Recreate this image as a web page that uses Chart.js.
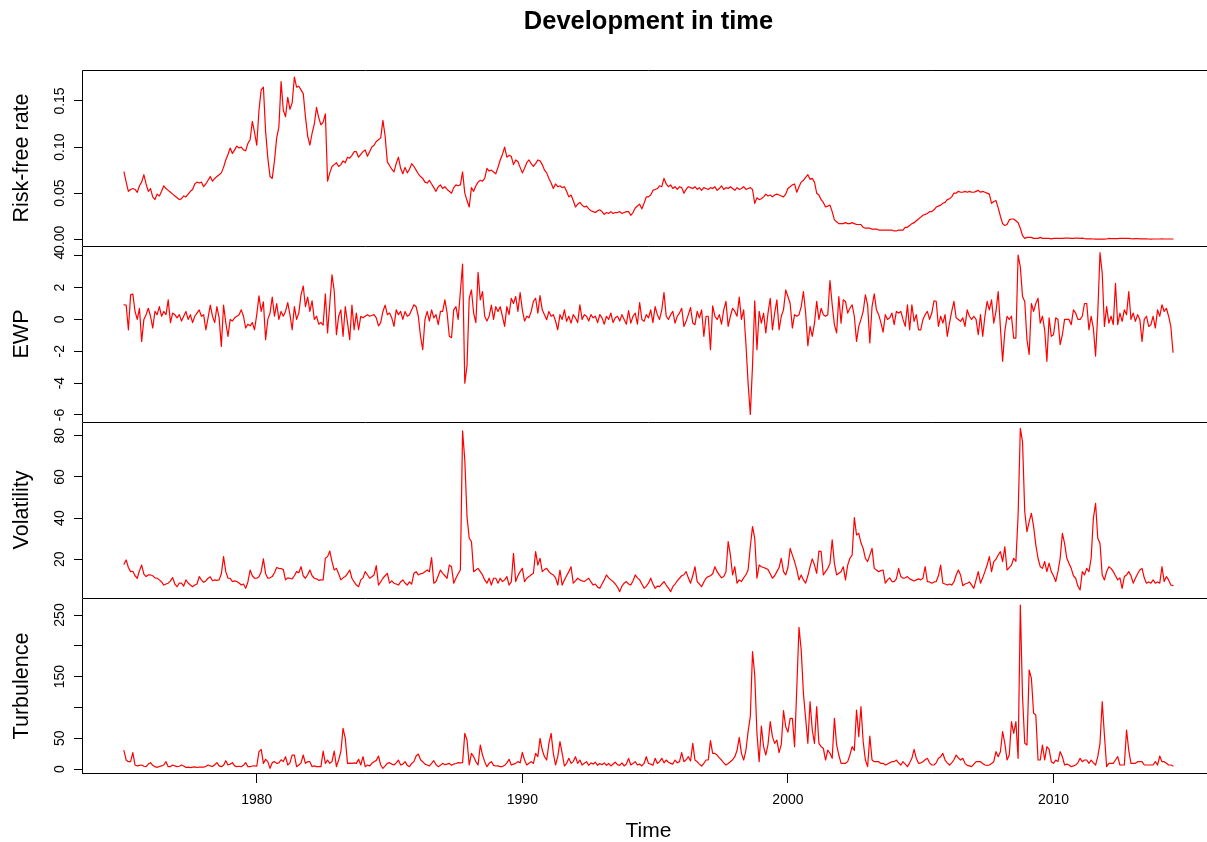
<!DOCTYPE html>
<html>
<head>
<meta charset="utf-8">
<title>Development in time</title>
<script src="https://cdn.jsdelivr.net/npm/chart.js@4.4.1/dist/chart.umd.min.js"></script>
<style>
  html, body { margin: 0; padding: 0; background: #fff; overflow: hidden; }
  #wrap { position: relative; width: 1215px; height: 842px; }
  #wrap canvas { position: absolute; left: 0; top: 0; }
</style>
</head>
<body>
<div id="wrap">
  <canvas id="rf" width="1215" height="842"></canvas>
  <canvas id="ewp" width="1215" height="842"></canvas>
  <canvas id="vol" width="1215" height="842"></canvas>
  <canvas id="turb" width="1215" height="842"></canvas>
</div>
<script>
// monthly series, Jan 1975 to Jul 2014 (one row per year)
const startYear = 1975;

const riskFree = [
  0.073, 0.062, 0.052, 0.054, 0.055, 0.054, 0.051, 0.058, 0.062, 0.070, 0.060, 0.052,
  0.055, 0.046, 0.043, 0.049, 0.047, 0.052, 0.058, 0.055, 0.053, 0.051, 0.049, 0.047,
  0.045, 0.043, 0.044, 0.047, 0.046, 0.049, 0.052, 0.054, 0.060, 0.062, 0.061, 0.062,
  0.057, 0.060, 0.064, 0.068, 0.063, 0.066, 0.068, 0.070, 0.072, 0.078, 0.086, 0.092,
  0.099, 0.093, 0.097, 0.101, 0.099, 0.100, 0.097, 0.096, 0.104, 0.108, 0.128, 0.116,
  0.102, 0.140, 0.162, 0.165, 0.117, 0.088, 0.068, 0.066, 0.085, 0.110, 0.122, 0.171,
  0.140, 0.133, 0.154, 0.141, 0.148, 0.176, 0.165, 0.166, 0.162, 0.158, 0.133, 0.112,
  0.102, 0.115, 0.125, 0.143, 0.132, 0.124, 0.127, 0.136, 0.063, 0.072, 0.079, 0.081,
  0.083, 0.079, 0.081, 0.085, 0.083, 0.089, 0.088, 0.091, 0.095, 0.095, 0.089, 0.092,
  0.095, 0.097, 0.090, 0.095, 0.100, 0.102, 0.106, 0.108, 0.110, 0.129, 0.112, 0.084,
  0.080, 0.076, 0.073, 0.082, 0.089, 0.077, 0.071, 0.078, 0.072, 0.076, 0.082, 0.079,
  0.075, 0.071, 0.068, 0.066, 0.062, 0.061, 0.064, 0.060, 0.056, 0.052, 0.057, 0.059,
  0.055, 0.057, 0.054, 0.052, 0.050, 0.056, 0.059, 0.058, 0.059, 0.073, 0.050, 0.042,
  0.035, 0.056, 0.052, 0.058, 0.062, 0.064, 0.063, 0.066, 0.077, 0.074, 0.075, 0.073,
  0.071, 0.078, 0.086, 0.092, 0.100, 0.089, 0.091, 0.090, 0.081, 0.086, 0.084, 0.078,
  0.072, 0.077, 0.083, 0.086, 0.082, 0.079, 0.082, 0.086, 0.085, 0.081, 0.075, 0.072,
  0.066, 0.061, 0.055, 0.060, 0.057, 0.058, 0.056, 0.057, 0.052, 0.046, 0.048, 0.042,
  0.035, 0.038, 0.040, 0.037, 0.035, 0.036, 0.033, 0.031, 0.030, 0.029, 0.031, 0.032,
  0.030, 0.027, 0.029, 0.028, 0.030, 0.028, 0.029, 0.029, 0.030, 0.028, 0.029, 0.030,
  0.030, 0.026, 0.029, 0.034, 0.036, 0.038, 0.033, 0.039, 0.046, 0.046, 0.048, 0.053,
  0.054, 0.055, 0.058, 0.057, 0.066, 0.060, 0.057, 0.059, 0.055, 0.057, 0.054, 0.057,
  0.056, 0.050, 0.054, 0.057, 0.056, 0.055, 0.057, 0.054, 0.056, 0.053, 0.056, 0.055,
  0.054, 0.056, 0.055, 0.057, 0.053, 0.055, 0.058, 0.054, 0.056, 0.055, 0.057, 0.055,
  0.053, 0.056, 0.054, 0.055, 0.057, 0.054, 0.055, 0.056, 0.054, 0.039, 0.045, 0.043,
  0.044, 0.046, 0.049, 0.047, 0.048, 0.046, 0.048, 0.049, 0.048, 0.047, 0.046, 0.049,
  0.055, 0.057, 0.059, 0.060, 0.051, 0.057, 0.062, 0.064, 0.067, 0.070, 0.065, 0.066,
  0.062, 0.050, 0.048, 0.043, 0.040, 0.035, 0.036, 0.037, 0.030, 0.021, 0.019, 0.017,
  0.017, 0.017, 0.018, 0.017, 0.017, 0.018, 0.017, 0.016, 0.016, 0.016, 0.013, 0.012,
  0.012, 0.012, 0.011, 0.011, 0.011, 0.010, 0.010, 0.010, 0.010, 0.010, 0.010, 0.010,
  0.009, 0.009, 0.010, 0.010, 0.010, 0.013, 0.013, 0.015, 0.017, 0.018, 0.020, 0.022,
  0.024, 0.026, 0.027, 0.028, 0.030, 0.030, 0.032, 0.035, 0.036, 0.037, 0.039, 0.040,
  0.043, 0.044, 0.046, 0.050, 0.050, 0.052, 0.051, 0.051, 0.052, 0.051, 0.052, 0.051,
  0.051, 0.052, 0.053, 0.051, 0.052, 0.051, 0.050, 0.049, 0.039, 0.041, 0.042, 0.034,
  0.025, 0.017, 0.015, 0.016, 0.021, 0.022, 0.022, 0.020, 0.018, 0.012, 0.004, 0.001,
  0.002, 0.002, 0.002, 0.001, 0.001, 0.001, 0.002, 0.001, 0.001, 0.001, 0.001, 0.0005,
  0.001, 0.001, 0.001, 0.001, 0.001, 0.0012, 0.0012, 0.0012, 0.001, 0.001, 0.0012, 0.0012,
  0.001, 0.0012, 0.0008, 0.0005, 0.0004, 0.0004, 0.0003, 0.0002, 0.0002, 0.0002, 0.0002, 0.0002,
  0.0003, 0.001, 0.0008, 0.0008, 0.0008, 0.0008, 0.001, 0.001, 0.001, 0.001, 0.001, 0.0007,
  0.0005, 0.0008, 0.0008, 0.0005, 0.0004, 0.0004, 0.0004, 0.0003, 0.0002, 0.0003, 0.0003, 0.0003,
  0.0003, 0.0004, 0.0003, 0.0003, 0.0003, 0.0003, 0.0003
];

const ewp = [
  0.92, 0.90, -0.65, 1.54, 1.60, 0.50, 0.00, 0.70, -1.38, 0.00, 0.30, 0.70,
  0.20, -0.54, 0.50, 0.30, 0.80, 0.20, 0.50, 0.30, 1.23, -0.20, 0.40, 0.30,
  0.10, 0.30, -0.10, 0.20, 0.50, 0.00, 0.30, -0.20, 0.20, 0.40, 0.60, 0.20,
  0.30, -0.65, 0.10, 0.90, 0.20, -0.20, 0.80, 0.10, -1.69, 0.90, -0.20, -1.06,
  0.00, -0.10, 0.10, 0.20, 0.30, 0.60, 0.20, -0.54, -0.30, -0.40, -0.20, -0.65,
  0.30, 1.48, 0.50, 1.10, -1.27, 0.00, 0.40, 1.40, 0.20, 1.00, 0.00, 0.50,
  0.20, 0.50, 1.06, 0.30, -0.65, 0.80, 0.00, 0.40, 1.54, 2.10, 0.80, 1.40,
  0.50, 1.17, 0.00, 0.20, -0.30, -0.20, -0.35, 1.60, -0.85, 1.00, 2.80, 1.80,
  -0.96, 0.20, 0.60, -1.06, 0.80, -0.20, -1.27, 0.90, -0.65, 0.40, -0.65, 0.20,
  0.10, 0.20, 0.30, 0.20, 0.25, 0.30, 0.10, -0.40, -0.20, 0.50, 0.90, 0.30,
  0.40, 0.10, -0.44, 0.60, 0.30, 0.50, 0.00, 0.50, 0.20, 0.30, 0.60, 0.92,
  0.80, 0.20, -1.06, -1.90, 0.00, 0.50, -0.10, 0.60, 0.10, 0.30, -0.33, 0.50,
  0.50, 1.23, 0.40, -1.06, -1.15, 0.60, 0.80, 0.00, 1.75, 3.48, -4.00, -2.90,
  1.33, 1.85, 0.40, -0.20, 2.96, 1.23, 1.75, 0.20, -0.10, 0.20, 0.90, 0.00,
  0.80, 0.50, 0.80, 0.20, -0.44, 0.80, 0.30, 1.33, 1.00, 1.44, 0.50, 1.69,
  0.60, -0.10, 0.20, 0.10, 0.50, 1.13, 1.33, 0.40, 1.50, 0.60, 0.30, -0.02,
  0.50, 0.20, 0.30, -0.10, -0.65, 0.30, 0.00, 0.60, -0.12, 0.20, -0.23, 0.30,
  0.10, -0.20, 0.92, 0.00, 0.30, 0.20, -0.10, 0.30, 0.10, 0.20, -0.20, 0.30,
  0.10, -0.30, 0.20, 0.00, 0.40, -0.20, 0.10, 0.20, -0.10, 0.30, 0.00, -0.30,
  0.56, -0.23, 0.20, 0.40, -0.30, 1.06, 0.00, -0.12, 0.30, 0.10, 0.60, -0.20,
  0.80, 0.30, 0.00, 0.60, 1.69, 0.20, 0.00, 0.30, 0.50, -0.23, 0.20, 0.40,
  0.70, -0.44, -0.12, 0.30, 0.75, -0.23, -0.33, 0.50, 0.10, 0.60, -1.06, 0.20,
  0.20, -1.90, 0.85, 0.20, 0.00, 0.30, -0.30, 0.60, 1.13, -0.44, 0.20, 0.70,
  0.50, 0.20, 1.40, 0.00, 0.60, -1.48, -4.00, -5.96, -2.90, 1.17, -1.90, 0.50,
  -0.23, 0.40, -0.85, 0.40, 1.33, -0.65, 0.40, 1.23, -0.65, 0.20, 0.60, 1.85,
  1.44, 1.00, -0.54, 0.30, 0.20, 0.30, 0.80, 1.75, 0.40, -1.65, -0.44, -1.06,
  -0.23, 1.13, 0.00, 0.70, 0.30, 0.20, 0.30, 2.44, 0.92, -0.33, -0.85, 1.44,
  -0.23, 1.23, 1.13, 0.40, 0.70, 0.92, 0.20, -1.38, -0.44, 0.00, 0.50, 1.54,
  0.92, -1.48, 0.80, 1.60, 0.60, 0.30, -0.20, -0.80, 0.30, 0.00, 0.10, 0.40,
  -0.33, 0.50, 0.40, 0.50, 0.00, -0.44, 0.92, -0.65, 0.92, -0.12, 0.30, -0.65,
  -0.65, 0.00, 0.30, 0.50, 0.00, 0.40, 1.17, 1.13, -0.44, 0.20, -0.23, 0.30,
  -1.06, -0.23, 0.50, 1.13, 0.10, 0.00, -0.12, 0.10, -0.44, 0.60, 0.20, 0.00,
  0.20, 0.00, -0.96, 0.30, -1.06, 0.20, 1.13, 0.60, 1.23, -0.23, 0.50, 1.75,
  -0.50, -2.63, -0.75, 0.20, 0.00, 0.20, -1.17, -1.17, 4.04, 3.30, 1.44, 1.13,
  -1.27, -2.20, 1.00, 0.50, 1.00, 1.33, -0.23, 0.20, -0.65, -2.63, 0.10, -1.06,
  -0.96, 0.10, 0.00, -1.58, -0.96, 0.00, 0.00, 0.00, -0.33, 0.60, 0.40, 0.00,
  0.00, 0.20, 1.00, 1.00, -0.65, 0.20, -0.54, -2.30, 0.40, 4.19, 2.90, -0.44,
  0.80, -0.23, 0.20, -0.33, 2.27, -0.33, 0.40, -0.12, 0.60, 0.30, 1.75, 0.00,
  0.40, -0.12, 0.30, 0.00, -1.38, 0.00, 0.20, -0.44, -0.33, 0.20, -0.54, 0.60,
  0.20, 0.92, 0.50, 0.70, 0.20, -0.44, -2.06
];

const volatility = [
  17.6, 19.7, 16.0, 14.0, 14.2, 12.0, 10.8, 14.5, 17.2, 12.8, 11.6, 12.4,
  12.4, 12.0, 11.0, 10.8, 10.0, 9.0, 7.5, 8.0, 8.4, 9.5, 11.1, 8.0,
  6.7, 8.5, 8.4, 7.0, 10.0, 8.5, 7.5, 6.7, 7.5, 8.0, 11.6, 10.0,
  8.8, 9.5, 10.8, 11.5, 9.6, 10.0, 9.8, 10.0, 13.0, 21.3, 14.0, 10.8,
  10.8, 9.2, 9.5, 9.2, 8.5, 7.5, 8.0, 5.9, 9.0, 14.8, 12.0, 10.8,
  10.8, 11.5, 14.0, 20.2, 13.0, 10.8, 11.0, 11.6, 13.5, 16.0, 15.6, 15.5,
  15.0, 10.0, 11.0, 10.8, 10.5, 12.0, 14.0, 13.5, 16.4, 12.0, 10.8, 12.5,
  14.8, 12.0, 10.8, 10.5, 9.8, 10.0, 10.0, 20.5, 21.3, 24.0, 18.9, 14.8,
  15.6, 13.0, 10.0, 11.0, 11.6, 13.0, 14.8, 10.8, 9.0, 7.5, 6.7, 10.0,
  11.0, 14.0, 12.5, 10.8, 11.5, 12.4, 16.9, 7.5, 9.0, 10.8, 12.0, 13.2,
  8.4, 9.5, 8.4, 8.0, 7.5, 9.0, 10.0, 8.5, 7.5, 9.0, 8.0, 13.2,
  14.0, 12.4, 13.0, 13.2, 14.0, 14.8, 14.0, 20.8, 8.4, 9.2, 12.0, 14.8,
  13.2, 12.0, 10.8, 17.2, 16.4, 8.4, 10.8, 13.0, 14.8, 82.3, 68.2, 40.7,
  30.2, 28.6, 14.0, 14.8, 15.6, 14.0, 12.4, 10.0, 8.4, 10.8, 7.5, 10.8,
  10.8, 8.4, 10.8, 9.2, 10.0, 11.6, 7.5, 9.0, 22.9, 9.2, 12.0, 14.0,
  15.6, 9.2, 10.8, 11.6, 12.5, 13.2, 23.7, 17.2, 20.5, 14.0, 15.0, 15.6,
  14.0, 13.0, 12.4, 11.0, 7.5, 14.8, 7.5, 10.0, 12.0, 14.0, 16.4, 8.4,
  9.5, 10.8, 10.0, 9.5, 9.2, 10.0, 10.8, 9.0, 7.5, 8.0, 6.5, 5.9,
  8.0, 10.0, 12.4, 11.0, 10.0, 9.2, 8.0, 6.5, 4.3, 7.0, 8.4, 9.2,
  8.0, 7.5, 9.5, 12.4, 11.0, 10.0, 8.0, 5.9, 7.0, 8.4, 10.8, 8.0,
  5.9, 7.0, 6.7, 8.0, 9.2, 7.5, 6.0, 4.3, 6.7, 8.0, 9.5, 10.8,
  12.0, 12.5, 14.0, 11.0, 8.4, 12.0, 16.4, 9.2, 8.0, 6.7, 9.0, 10.8,
  11.6, 12.0, 13.0, 16.4, 14.0, 12.4, 11.0, 11.6, 14.0, 28.6, 22.1, 12.4,
  16.4, 8.4, 10.0, 9.2, 11.0, 12.5, 14.8, 26.1, 35.9, 30.2, 10.8, 17.2,
  16.4, 16.0, 15.6, 15.0, 13.0, 10.8, 12.0, 14.0, 16.0, 20.5, 14.0, 12.4,
  16.0, 25.3, 22.0, 18.9, 15.0, 10.0, 12.4, 10.0, 8.4, 12.0, 16.4, 20.2,
  17.2, 13.2, 24.0, 23.7, 12.4, 14.0, 15.6, 18.0, 29.4, 18.0, 12.4, 13.2,
  14.0, 16.4, 10.0, 17.2, 20.5, 22.0, 40.2, 31.8, 32.6, 28.0, 25.3, 20.5,
  18.9, 22.0, 25.3, 15.6, 14.8, 14.0, 14.5, 14.8, 8.4, 10.0, 11.0, 9.2,
  9.2, 10.5, 15.6, 11.6, 10.8, 11.0, 11.6, 10.5, 10.0, 9.5, 10.0, 10.5,
  10.0, 10.8, 16.4, 9.2, 9.0, 8.4, 9.0, 9.2, 12.0, 17.2, 8.4, 8.0,
  7.5, 8.0, 7.5, 9.0, 12.4, 14.8, 12.4, 7.2, 8.0, 8.4, 9.0, 7.5,
  5.9, 10.0, 14.0, 8.4, 11.0, 14.0, 17.2, 21.3, 14.0, 18.9, 20.0, 22.1,
  23.7, 18.9, 26.1, 14.8, 16.0, 17.2, 20.5, 19.0, 41.5, 83.6, 77.0, 43.1,
  33.4, 38.3, 42.3, 36.0, 27.0, 20.5, 16.4, 15.6, 18.9, 14.0, 18.1, 14.0,
  12.0, 9.2, 14.0, 20.5, 32.6, 27.7, 20.5, 18.0, 15.6, 12.0, 10.8, 7.0,
  5.1, 14.0, 12.4, 15.6, 14.0, 20.5, 39.9, 47.2, 30.2, 27.7, 12.4, 10.0,
  14.0, 16.4, 15.6, 14.0, 12.0, 10.0, 11.0, 5.9, 11.6, 12.4, 14.0, 12.0,
  8.4, 10.8, 13.0, 14.8, 15.6, 11.0, 8.4, 9.0, 8.4, 10.0, 8.4, 9.0,
  8.4, 16.4, 9.2, 11.6, 10.0, 7.5, 7.2
];

const turbulence = [
  29.8, 14.6, 11.9, 12.0, 26.5, 6.5, 5.0, 6.0, 6.5, 4.5, 3.8, 8.0,
  10.3, 6.0, 3.8, 2.7, 4.0, 5.0, 6.5, 11.9, 3.8, 4.0, 6.5, 5.0,
  3.8, 4.5, 6.5, 5.0, 2.5, 3.0, 2.3, 3.0, 3.5, 2.5, 3.0, 3.2,
  3.0, 4.0, 6.5, 5.0, 4.0, 7.0, 10.3, 5.0, 3.8, 6.0, 13.5, 6.5,
  8.0, 10.3, 5.0, 3.8, 4.5, 3.8, 6.0, 10.3, 3.8, 4.0, 4.9, 5.0,
  4.5, 28.1, 31.9, 9.2, 15.7, 11.9, 1.1, 10.3, 12.0, 9.2, 10.0, 15.0,
  12.0, 20.0, 6.5, 10.0, 22.7, 22.7, 3.8, 6.5, 10.0, 22.7, 9.2, 11.9,
  11.9, 3.8, 5.0, 3.8, 4.0, 3.8, 29.2, 9.2, 14.6, 9.2, 12.0, 29.2,
  3.8, 14.6, 28.1, 66.0, 49.8, 9.2, 9.5, 9.2, 10.0, 9.2, 15.7, 6.5,
  20.0, 3.8, 6.5, 4.9, 9.2, 11.9, 14.0, 21.1, 6.5, 1.1, 5.0, 9.2,
  10.3, 8.0, 6.5, 10.0, 14.6, 6.5, 8.0, 11.9, 6.0, 3.8, 9.0, 12.0,
  21.1, 24.3, 15.0, 11.9, 8.0, 6.5, 5.0, 9.0, 13.5, 7.0, 3.8, 6.0,
  9.2, 7.0, 8.0, 9.2, 6.0, 8.0, 9.0, 10.3, 10.0, 10.3, 57.9, 47.0,
  6.5, 25.4, 20.0, 12.0, 6.5, 39.0, 22.7, 12.0, 3.8, 9.2, 11.9, 6.0,
  4.9, 5.0, 3.8, 4.0, 6.0, 10.0, 15.7, 6.5, 8.0, 9.2, 12.0, 10.0,
  27.0, 14.6, 6.5, 9.2, 12.0, 9.0, 25.4, 20.0, 49.8, 30.8, 20.0, 14.6,
  41.7, 57.9, 25.4, 6.5, 20.0, 44.4, 25.4, 4.9, 9.2, 17.3, 9.2, 12.0,
  20.0, 9.2, 14.6, 6.5, 9.2, 12.0, 6.0, 10.0, 8.0, 11.0, 6.0, 9.0,
  7.0, 10.0, 6.0, 9.0, 5.0, 8.0, 11.0, 7.0, 6.0, 10.0, 5.0, 8.0,
  17.3, 6.5, 9.0, 12.0, 6.5, 8.0, 5.0, 9.0, 20.0, 9.0, 8.0, 6.0,
  17.3, 9.0, 12.0, 17.3, 10.0, 14.6, 11.0, 9.2, 8.0, 14.6, 10.0, 12.0,
  26.5, 11.9, 15.0, 20.0, 13.0, 41.7, 14.6, 11.9, 8.0, 4.9, 9.0, 14.6,
  14.6, 46.0, 25.4, 25.4, 22.7, 18.0, 14.6, 10.0, 6.5, 9.0, 11.9, 15.0,
  20.0, 30.0, 51.4, 25.4, 14.6, 30.0, 60.6, 85.0, 190.5, 152.6, 57.9, 11.9,
  69.8, 36.3, 22.7, 40.0, 76.8, 52.5, 41.7, 47.0, 26.5, 40.0, 94.7, 68.7,
  60.0, 82.2, 82.2, 36.3, 131.0, 230.0, 193.0, 122.8, 82.2, 41.7, 109.3, 63.3,
  41.7, 101.2, 41.7, 36.3, 33.6, 14.6, 30.8, 25.4, 17.3, 82.2, 39.0, 22.7,
  9.2, 9.2, 9.2, 12.0, 22.7, 36.3, 30.0, 95.8, 52.5, 101.2, 44.4, 14.6,
  3.8, 53.6, 14.6, 11.9, 12.0, 11.9, 9.0, 9.2, 6.5, 8.0, 10.0, 11.9,
  12.0, 14.6, 10.0, 6.5, 11.9, 8.0, 3.8, 10.0, 17.3, 31.9, 17.3, 9.2,
  10.0, 11.9, 15.0, 17.3, 10.0, 6.5, 6.5, 10.0, 17.3, 20.0, 25.4, 14.6,
  10.0, 6.5, 10.0, 15.0, 22.7, 18.0, 14.6, 17.3, 9.2, 6.0, 5.0, 3.8,
  8.0, 11.9, 12.0, 11.9, 9.0, 6.5, 6.0, 6.5, 9.0, 11.9, 28.1, 20.0,
  28.1, 60.6, 41.7, 14.6, 22.7, 76.8, 57.9, 76.8, 17.3, 266.2, 117.4, 41.7,
  39.0, 160.7, 147.2, 90.4, 87.7, 14.6, 14.6, 39.0, 14.6, 36.3, 31.9, 11.9,
  9.2, 14.6, 12.0, 28.1, 20.0, 6.5, 8.0, 6.5, 3.8, 5.0, 6.5, 10.0,
  17.3, 11.9, 14.6, 14.6, 9.2, 14.6, 10.0, 6.5, 20.0, 41.7, 109.3, 55.0,
  3.8, 9.2, 9.2, 9.2, 14.6, 20.0, 6.5, 6.5, 6.5, 63.3, 30.0, 9.2,
  9.2, 9.2, 11.9, 11.9, 11.9, 6.5, 6.5, 6.5, 6.5, 6.5, 11.9, 6.5,
  21.1, 11.9, 11.9, 9.2, 6.5, 6.5, 4.9
];

// axis ticks
const timeTicks = [1980, 1990, 2000, 2010];
const rfTicks = [0, 0.05, 0.10, 0.15];
const ewpTicks = [-6, -4, -2, 0, 2, 4];
const volTicks = [20, 40, 60, 80];
const turbTicks = [0, 50, 100, 150, 200, 250];
const turbTickLabels = [0, 50, 150, 250];

const FONT = '"Liberation Sans", Arial, Helvetica, sans-serif';
Chart.defaults.font.family = FONT;
Chart.defaults.color = '#000';

const W = 1215, H = 842;
const xMin = 1973.42, xMax = 2016.08;

const panels = [
  { id: 'rf', title: 'Risk-free rate', values: riskFree, ticks: rfTicks, labels: rfTicks, digits: 2,
    min: -0.0073, max: 0.1836, top: 70, bottom: 246 },
  { id: 'ewp', title: 'EWP', values: ewp, ticks: ewpTicks, labels: ewpTicks, digits: 0,
    min: -6.44, max: 4.61, top: 246, bottom: 422 },
  { id: 'vol', title: 'Volatility', values: volatility, ticks: volTicks, labels: volTicks, digits: 0,
    min: 1.21, max: 86.65, top: 422, bottom: 598 },
  { id: 'turb', title: 'Turbulence', values: turbulence, ticks: turbTicks, labels: turbTickLabels, digits: 0,
    min: -8.1, max: 277.6, top: 598, bottom: 774 }
];

// box around each panel and the upright (rotated) y tick labels
function framePlugin(p, last) {
  return {
    id: 'panelFrame',
    afterDraw(chart) {
      const { ctx, chartArea: a } = chart;
      const y = chart.scales.y;
      ctx.save();
      ctx.strokeStyle = '#000';
      ctx.lineWidth = 1;
      ctx.beginPath();
      ctx.moveTo(a.left + 0.5, a.bottom);
      ctx.lineTo(a.left + 0.5, a.top + 0.5);
      ctx.lineTo(a.right, a.top + 0.5);
      if (last) {
        ctx.moveTo(a.left, a.bottom - 0.5);
        ctx.lineTo(a.right, a.bottom - 0.5);
      }
      ctx.stroke();

      ctx.fillStyle = '#000';
      ctx.font = '14px ' + FONT;
      ctx.textAlign = 'center';
      ctx.textBaseline = 'alphabetic';
      p.labels.forEach(v => {
        ctx.save();
        ctx.translate(63.5, y.getPixelForValue(v));
        ctx.rotate(-Math.PI / 2);
        ctx.fillText(v.toFixed(p.digits), 0, 0);
        ctx.restore();
      });
      ctx.restore();
    }
  };
}

panels.forEach((p, k) => {
  const first = k === 0;
  const last = k === panels.length - 1;
  new Chart(document.getElementById(p.id), {
    type: 'line',
    data: {
      datasets: [{
        data: p.values.map((v, i) => ({ x: startYear + i / 12, y: v })),
        borderColor: '#ff0000',
        borderWidth: 1.2,
        borderJoinStyle: 'round',
        borderCapStyle: 'round',
        pointRadius: 0,
        tension: 0,
        fill: false
      }]
    },
    options: {
      responsive: false,
      animation: false,
      devicePixelRatio: 1,
      events: [],
      layout: {
        padding: { left: 0, right: 0, top: first ? 0 : p.top, bottom: last ? 0 : H - p.bottom }
      },
      plugins: {
        legend: { display: false },
        tooltip: { enabled: false },
        title: {
          display: first,
          text: 'Development in time',
          fullSize: false,
          font: { size: 25.5, weight: 'bold' },
          color: '#000',
          padding: { top: 7, bottom: 32.4 }
        }
      },
      scales: {
        x: {
          type: 'linear',
          min: xMin,
          max: xMax,
          display: last,
          afterBuildTicks: s => { s.ticks = timeTicks.map(v => ({ value: v })); },
          afterFit: s => { s.height = last ? 68 : 0; },
          ticks: { font: { size: 14 }, padding: 9, maxRotation: 0, autoSkip: false,
                   callback: v => String(v) },
          grid: { drawOnChartArea: false, drawTicks: true, tickLength: 9, color: '#000', lineWidth: 1 },
          border: { display: false },
          title: { display: true, text: 'Time', font: { size: 21, lineHeight: 1.05 }, padding: { top: 0, bottom: 0 } }
        },
        y: {
          type: 'linear',
          min: p.min,
          max: p.max,
          afterBuildTicks: s => { s.ticks = p.ticks.map(v => ({ value: v })); },
          afterFit: s => { s.width = 82; },
          ticks: { display: false },
          grid: { drawOnChartArea: false, drawTicks: true, tickLength: 8, color: '#000', lineWidth: 1 },
          border: { display: false },
          title: { display: true, text: p.title, font: { size: 21.5 }, padding: { top: 9, bottom: 0 } }
        }
      }
    },
    plugins: [framePlugin(p, last)]
  });
});
</script>
</body>
</html>
